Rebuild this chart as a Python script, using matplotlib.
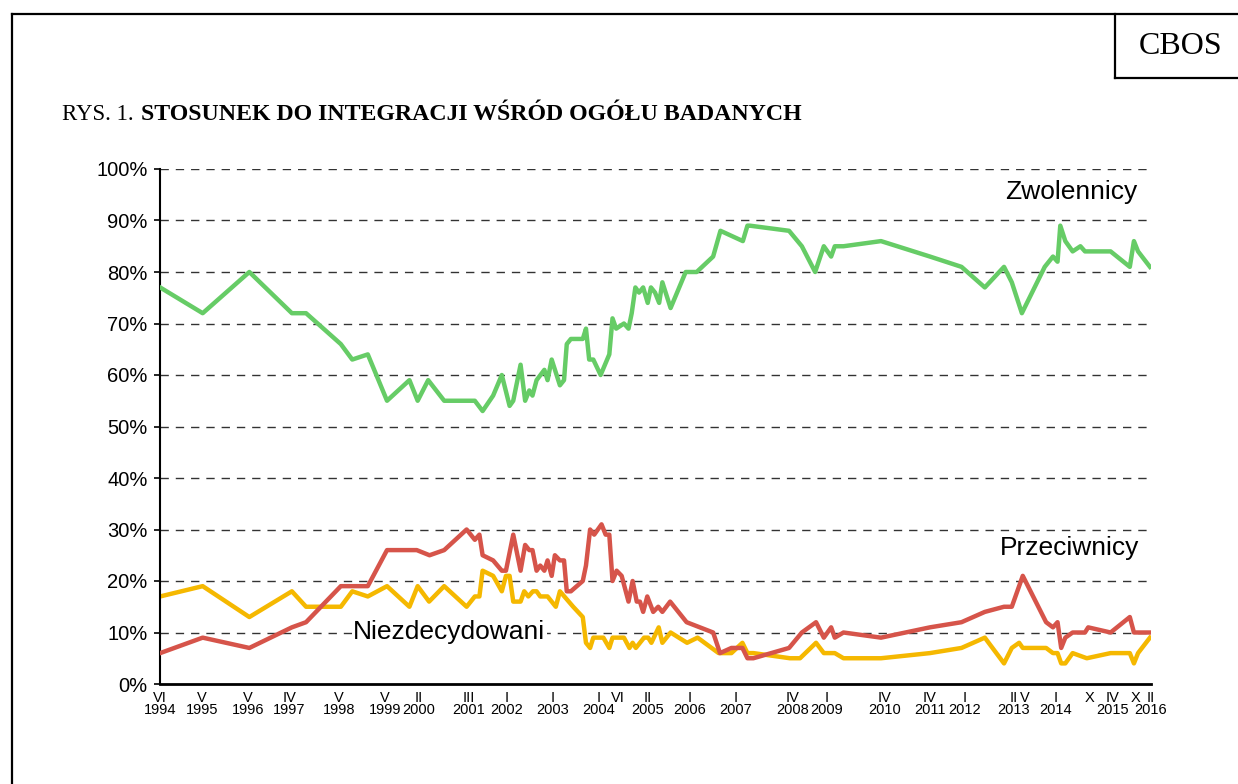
import matplotlib.pyplot as plt
from matplotlib.lines import Line2D
from matplotlib.ticker import FuncFormatter

W, H = 1238, 784

# survey dates as decimal years (year + (month - 1) / 12)
green_x = [1994.42, 1995.35, 1996.37, 1997.30, 1997.61, 1998.37, 1998.62, 1998.96,
           1999.38, 1999.87, 2000.05, 2000.28, 2000.63, 2001.30, 2001.47, 2001.70,
           2001.89, 2002.06, 2002.14, 2002.30, 2002.40, 2002.49, 2002.56, 2002.65,
           2002.82, 2002.89, 2002.98, 2003.16, 2003.25, 2003.31, 2003.40, 2003.66,
           2003.73, 2003.80, 2003.89, 2004.05, 2004.24, 2004.31, 2004.39, 2004.56,
           2004.66, 2004.73, 2004.81, 2004.89, 2004.98, 2005.08, 2005.15, 2005.24,
           2005.33, 2005.40, 2005.58, 2005.91, 2006.15, 2006.51, 2006.67, 2007.16,
           2007.26, 2007.31, 2008.17, 2008.45, 2008.74, 2008.93, 2009.09, 2009.17,
           2009.36, 2010.18, 2011.25, 2011.94, 2012.45, 2012.87, 2013.04, 2013.26,
           2013.76, 2013.94, 2014.04, 2014.10, 2014.21, 2014.37, 2014.54, 2014.64,
           2015.20, 2015.62, 2015.71, 2015.80, 2016.06]
zwolennicy = [77, 72, 80, 72, 72, 66, 63, 64,
              55, 59, 55, 59, 55, 55, 53, 56,
              60, 54, 55, 62, 55, 57, 56, 59,
              61, 59, 63, 58, 59, 66, 67, 67,
              69, 63, 63, 60, 64, 71, 69, 70,
              69, 72, 77, 76, 77, 74, 77, 76,
              74, 78, 73, 80, 80, 83, 88, 86,
              89, 89, 88, 85, 80, 85, 83, 85,
              85, 86, 83, 81, 77, 81, 78, 72,
              81, 83, 82, 89, 86, 84, 85, 84,
              84, 81, 86, 84, 81]

red_x = [1994.42, 1995.35, 1996.37, 1997.30, 1997.61, 1998.37, 1998.96, 1999.38,
         2000.03, 2000.31, 2000.63, 2001.12, 2001.30, 2001.40, 2001.47, 2001.70,
         2001.89, 2001.98, 2002.14, 2002.30, 2002.40, 2002.49, 2002.56, 2002.65,
         2002.73, 2002.82, 2002.89, 2002.98, 2003.05, 2003.16, 2003.25, 2003.31,
         2003.40, 2003.66, 2003.73, 2003.82, 2003.91, 2004.07, 2004.16, 2004.24,
         2004.31, 2004.40, 2004.51, 2004.66, 2004.75, 2004.84, 2004.91, 2004.98,
         2005.07, 2005.20, 2005.31, 2005.40, 2005.57, 2005.93, 2006.51, 2006.66,
         2006.91, 2007.15, 2007.26, 2007.39, 2008.17, 2008.45, 2008.76, 2008.93,
         2009.09, 2009.17, 2009.36, 2010.18, 2011.25, 2011.94, 2012.45, 2012.87,
         2013.04, 2013.28, 2013.79, 2013.94, 2014.04, 2014.12, 2014.21, 2014.37,
         2014.64, 2014.71, 2015.20, 2015.62, 2015.71, 2016.06]
przeciwnicy = [6, 9, 7, 11, 12, 19, 19, 26,
               26, 25, 26, 30, 28, 29, 25, 24,
               22, 22, 29, 22, 27, 26, 26, 22,
               23, 22, 24, 21, 25, 24, 24, 18,
               18, 20, 23, 30, 29, 31, 29, 29,
               20, 22, 21, 16, 20, 16, 16, 14,
               17, 14, 15, 14, 16, 12, 10, 6,
               7, 7, 5, 5, 7, 10, 12, 9,
               11, 9, 10, 9, 11, 12, 14, 15,
               15, 21, 12, 11, 12, 7, 9, 10,
               10, 11, 10, 13, 10, 10]

yellow_x = [1994.42, 1995.35, 1996.37, 1997.30, 1997.61, 1998.37, 1998.62, 1998.96,
            1999.38, 1999.87, 2000.05, 2000.30, 2000.63, 2001.12, 2001.30, 2001.40,
            2001.47, 2001.70, 2001.89, 2001.98, 2002.06, 2002.14, 2002.30, 2002.38,
            2002.47, 2002.57, 2002.65, 2002.73, 2002.89, 2003.07, 2003.16, 2003.45,
            2003.66, 2003.73, 2003.82, 2003.89, 2004.11, 2004.24, 2004.31, 2004.56,
            2004.68, 2004.75, 2004.82, 2005.00, 2005.09, 2005.16, 2005.32, 2005.40,
            2005.58, 2005.94, 2006.17, 2006.63, 2006.91, 2007.15, 2007.26, 2007.39,
            2008.19, 2008.41, 2008.76, 2008.93, 2009.17, 2009.36, 2010.18, 2011.25,
            2011.94, 2012.45, 2012.87, 2013.04, 2013.20, 2013.28, 2013.79, 2013.94,
            2014.04, 2014.12, 2014.21, 2014.37, 2014.68, 2015.20, 2015.62, 2015.71,
            2015.80, 2016.06]
niezdecydowani = [17, 19, 13, 18, 15, 15, 18, 17,
                  19, 15, 19, 16, 19, 15, 17, 17,
                  22, 21, 18, 21, 21, 16, 16, 18,
                  17, 18, 18, 17, 17, 15, 18, 15,
                  13, 8, 7, 9, 9, 7, 9, 9,
                  7, 8, 7, 9, 9, 8, 11, 8,
                  10, 8, 9, 6, 6, 8, 6, 6,
                  5, 5, 8, 6, 6, 5, 5, 6,
                  7, 9, 4, 7, 8, 7, 7, 6,
                  6, 4, 4, 6, 5, 6, 6, 4,
                  6, 9]

tick_months = ["VI", "V", "V", "IV", "V", "V", "II", "III", "I", "I", "I", "VI", "II",
               "I", "I", "IV", "I", "IV", "IV", "I", "II", "V", "I", "X", "IV", "X", "II"]
tick_years = [1994, 1995, 1996, 1997, 1998, 1999, 2000, 2001, 2002, 2003, 2004, 2004,
              2005, 2006, 2007, 2008, 2009, 2010, 2011, 2012, 2013, 2013, 2014, 2014,
              2015, 2015, 2016]

ROMAN = {"I": 1, "II": 2, "III": 3, "IV": 4, "V": 5, "VI": 6, "X": 10}

GREEN = "#66cc66"
RED = "#d6544a"
YELLOW = "#f5b800"

plt.rcParams["font.family"] = ["Liberation Sans", "DejaVu Sans"]

fig = plt.figure(figsize=(W / 100, H / 100), dpi=100)
ax = fig.add_axes([160 / W, 1 - 684 / H, (1151 - 160) / W, (684 - 169) / H])

for y in range(10, 101, 10):
    ax.axhline(y, color="#333333", lw=1, ls=(0, (6, 5)), zorder=1)

ax.plot(green_x, zwolennicy, color=GREEN, lw=3.2, solid_joinstyle="round", zorder=3)
ax.plot(red_x, przeciwnicy, color=RED, lw=3.2, solid_joinstyle="round", zorder=3)
ax.plot(yellow_x, niezdecydowani, color=YELLOW, lw=3.2, solid_joinstyle="round", zorder=2)

ax.set_xlim(1994 + 5 / 12, 2016 + 1 / 12)
ax.set_ylim(0, 100)
ax.set_yticks(range(0, 101, 10))
ax.yaxis.set_major_formatter(FuncFormatter(lambda v, p: f"{int(v)}%"))
ax.tick_params(axis="y", labelsize=14.5, length=4, width=1.2, pad=5)

# roman month as tick label, year written once underneath
xt = [y + (ROMAN[m] - 1) / 12 for m, y in zip(tick_months, tick_years)]
ax.set_xticks(xt)
ax.set_xticklabels(tick_months, fontsize=10.5)
ax.tick_params(axis="x", length=0, pad=5)
prev = None
for x, y in zip(xt, tick_years):
    if y != prev:
        ax.text(x, -0.051, str(y), transform=ax.get_xaxis_transform(),
                fontsize=10.5, ha="center", va="center")
    prev = y

for s in ["top", "right"]:
    ax.spines[s].set_visible(False)
ax.spines["left"].set_linewidth(1.5)
ax.spines["bottom"].set_linewidth(2)

ax.text(2014.35, 95.5, "Zwolennicy", fontsize=19, ha="center", va="center")
ax.text(2014.3, 26.4, "Przeciwnicy", fontsize=19, ha="center", va="center")
ax.text(2000.74, 10.1, "Niezdecydowani", fontsize=19, ha="center", va="center", zorder=4,
        bbox=dict(facecolor="white", edgecolor="none", pad=1))

# page frame and CBOS box (pixel coordinates)
def px_line(xs, ys):
    fig.add_artist(Line2D([x / W for x in xs], [1 - y / H for y in ys],
                          transform=fig.transFigure, color="black", lw=1.6))

px_line([12, 12], [14, H])
px_line([12, W], [14, 14])
px_line([1115, 1115], [14, 78])
px_line([1115, W], [78, 78])

fig.text(1181 / W, 1 - 46 / H, "CBOS", fontsize=23, family="Liberation Serif",
         ha="center", va="center")
fig.text(62 / W, 1 - 115 / H, "RYS. 1. ", fontsize=16.5, family="Liberation Serif",
         ha="left", va="center")
fig.text(141 / W, 1 - 115 / H, "STOSUNEK DO INTEGRACJI WŚRÓD OGÓŁU BADANYCH", fontsize=17.2,
         family="Liberation Serif", weight="bold", ha="left", va="center")

fig.savefig("out.png", dpi=100)
